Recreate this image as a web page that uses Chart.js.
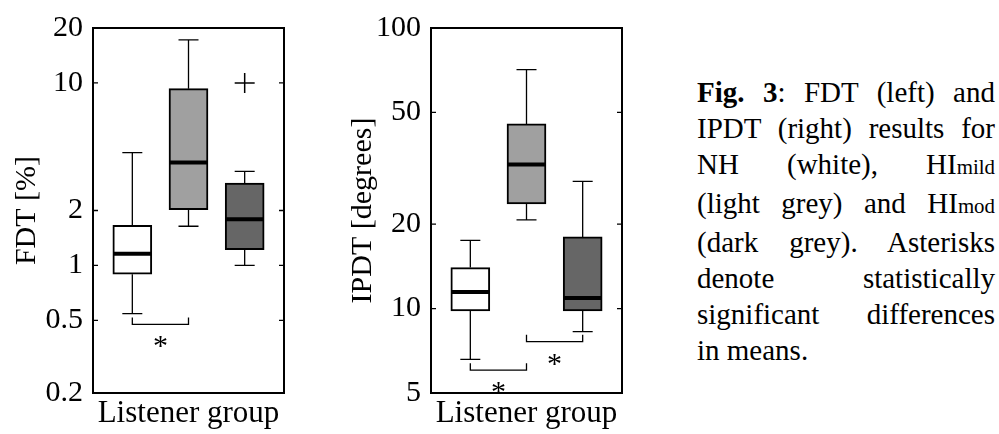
<!DOCTYPE html>
<html>
<head>
<meta charset="utf-8">
<script src="https://cdn.jsdelivr.net/npm/chart.js@4.4.1/dist/chart.umd.min.js"></script>
<style>
  body { margin: 0; background: #fff; }
  #wrap { position: relative; width: 999px; height: 434px; overflow: hidden; }
  #fdt { position: absolute; left: 0; top: 0; }
  #ipdt { position: absolute; left: 330px; top: 0; }
  #caption {
    position: absolute; left: 697px; top: 74px; width: 298px;
    font-family: "Liberation Serif", "Times New Roman", serif;
    font-size: 29px; line-height: 36px; color: #000;
  }
  #caption .ln { text-align: justify; text-align-last: justify; }
  #caption .ln.last { text-align-last: left; }
  #caption small { font-size: 0.72em; }
</style>
</head>
<body>
<div id="wrap">
  <canvas id="fdt" width="300" height="434"></canvas>
  <canvas id="ipdt" width="310" height="434"></canvas>
  <div id="caption">
    <div class="ln"><b>Fig. 3</b>: FDT (left) and</div>
    <div class="ln">IPDT (right) results for</div>
    <div class="ln">NH (white), HI<small>mild</small></div>
    <div class="ln">(light grey) and HI<small>mod</small></div>
    <div class="ln">(dark grey). Asterisks</div>
    <div class="ln">denote statistically</div>
    <div class="ln">significant differences</div>
    <div class="ln last">in means.</div>
  </div>
</div>
<script>
// Listener groups, placed at x = 1, 2, 3
const groups = ["NH", "HImild", "HImod"];
const groupPos = [1, 2, 3];
const boxColors = ["#ffffff", "#a0a0a0", "#666666"];

// FDT [%] box plot values
const fdtMin = [0.545, 1.64, 1.0];
const fdtQ1 = [0.895, 2.02, 1.22];
const fdtMed = [1.16, 3.66, 1.79];
const fdtQ3 = [1.66, 9.3, 2.83];
const fdtMax = [4.15, 17.2, 3.28];
const fdtOutlierGroup = [3];
const fdtOutlierValue = [10];
const fdtTicks = [0.2, 0.5, 1, 2, 10, 20];
const fdtSigFrom = [1];
const fdtSigTo = [2];
const fdtSigLevel = [0.475];

// IPDT [degrees] box plot values
const ipdtMin = [6.59, 20.7, 8.27];
const ipdtQ1 = [9.8, 23.6, 9.8];
const ipdtMed = [11.45, 32.6, 10.9];
const ipdtQ3 = [14.0, 45.5, 18.0];
const ipdtMax = [17.5, 71.1, 28.4];
const ipdtOutlierGroup = [];
const ipdtOutlierValue = [];
const ipdtTicks = [5, 10, 20, 50, 100];
const ipdtSigFrom = [1, 2];
const ipdtSigTo = [2, 3];
const ipdtSigLevel = [6.03, 7.62];

const serif = "'Liberation Serif', 'Times New Roman', serif";

// draws whiskers, medians, frame, inward ticks and significance brackets
const boxPlotExtras = {
  id: "boxPlotExtras",
  afterDatasetsDraw(chart, args, opts) {
    const ctx = chart.ctx;
    const x = chart.scales.x;
    const y = chart.scales.y;
    const area = chart.chartArea;
    ctx.save();
    ctx.strokeStyle = "#000";

    // whiskers + caps
    ctx.lineWidth = 1.3;
    opts.pos.forEach((p, i) => {
      const px = x.getPixelForValue(p);
      [[opts.q3[i], opts.max[i]], [opts.q1[i], opts.min[i]]].forEach(([from, to]) => {
        ctx.beginPath();
        ctx.moveTo(px, y.getPixelForValue(from));
        ctx.lineTo(px, y.getPixelForValue(to));
        ctx.moveTo(px - 10, y.getPixelForValue(to));
        ctx.lineTo(px + 10, y.getPixelForValue(to));
        ctx.stroke();
      });
    });

    // medians
    ctx.lineWidth = 4;
    opts.pos.forEach((p, i) => {
      const px = x.getPixelForValue(p);
      const py = y.getPixelForValue(opts.med[i]);
      ctx.beginPath();
      ctx.moveTo(px - 19, py);
      ctx.lineTo(px + 19, py);
      ctx.stroke();
    });

    // frame and inward ticks
    ctx.lineWidth = 2;
    ctx.strokeRect(area.left, area.top, area.right - area.left, area.bottom - area.top);
    ctx.lineWidth = 1.3;
    y.ticks.forEach((t) => {
      const py = y.getPixelForValue(t.value);
      ctx.beginPath();
      ctx.moveTo(area.left, py);
      ctx.lineTo(area.left + 5, py);
      ctx.moveTo(area.right, py);
      ctx.lineTo(area.right - 5, py);
      ctx.stroke();
    });

    // significance brackets
    ctx.lineWidth = 1.3;
    ctx.fillStyle = "#000";
    ctx.font = "30px " + serif;
    ctx.textAlign = "center";
    ctx.textBaseline = "alphabetic";
    opts.sigFrom.forEach((a, i) => {
      const x1 = x.getPixelForValue(a);
      const x2 = x.getPixelForValue(opts.sigTo[i]);
      const py = y.getPixelForValue(opts.sigLevel[i]);
      ctx.beginPath();
      ctx.moveTo(x1, py - 7);
      ctx.lineTo(x1, py);
      ctx.lineTo(x2, py);
      ctx.lineTo(x2, py - 7);
      ctx.stroke();
      ctx.fillText("*", (x1 + x2) / 2, py + 31);
    });
    ctx.restore();
  },
};

function makePanel(canvasId, p) {
  const boxData = p.pos.map((pos, i) => ({ x: pos, y: [p.q1[i], p.q3[i]] }));
  const outlierData = p.outGroup.map((g, i) => ({ x: g, y: p.outValue[i] }));

  return new Chart(document.getElementById(canvasId), {
    type: "bar",
    data: {
      datasets: [
        {
          label: "box",
          data: boxData,
          backgroundColor: boxColors,
          borderColor: "#000",
          borderWidth: 2,
          borderSkipped: false,
          barThickness: 39,
        },
        {
          type: "scatter",
          label: "outliers",
          data: outlierData,
          pointStyle: "cross",
          radius: 10,
          borderColor: "#000",
          borderWidth: 1.5,
        },
      ],
    },
    options: {
      responsive: false,
      animation: false,
      layout: { padding: { top: p.padTop, right: p.padRight, left: 0, bottom: 0 } },
      plugins: {
        legend: { display: false },
        tooltip: { enabled: false },
        boxPlotExtras: {
          pos: p.pos, min: p.min, q1: p.q1, med: p.med, q3: p.q3, max: p.max,
          sigFrom: p.sigFrom, sigTo: p.sigTo, sigLevel: p.sigLevel,
        },
      },
      scales: {
        x: {
          type: "linear",
          min: 0.3,
          max: 3.7,
          offset: false,
          grid: { display: false, drawTicks: false },
          border: { display: false },
          ticks: { display: false },
          title: {
            display: true,
            text: "Listener group",
            color: "#000",
            font: { family: serif, size: 31 },
            padding: { top: 0, bottom: 2 },
          },
          afterFit: (scale) => { scale.height = 41; },
        },
        y: {
          type: "logarithmic",
          min: p.ticks[0],
          max: p.ticks[p.ticks.length - 1],
          grid: { display: false, drawTicks: false },
          border: { display: false },
          afterBuildTicks: (scale) => {
            scale.ticks = p.ticks.map((v) => ({ value: v }));
          },
          ticks: {
            color: "#000",
            padding: 10,
            font: { family: serif, size: 30 },
            callback: (v) => String(v),
          },
          title: {
            display: true,
            text: p.title,
            color: "#000",
            font: { family: serif, size: 30 },
            padding: { top: p.titlePad, bottom: 0 },
          },
          afterFit: (scale) => { scale.width = p.axisWidth; },
        },
      },
    },
    plugins: [boxPlotExtras],
  });
}

makePanel("fdt", {
  pos: groupPos, min: fdtMin, q1: fdtQ1, med: fdtMed, q3: fdtQ3, max: fdtMax,
  outGroup: fdtOutlierGroup, outValue: fdtOutlierValue, ticks: fdtTicks,
  sigFrom: fdtSigFrom, sigTo: fdtSigTo, sigLevel: fdtSigLevel,
  title: "FDT [%]", titlePad: 9, axisWidth: 93, padTop: 21, padRight: 16,
});

makePanel("ipdt", {
  pos: groupPos, min: ipdtMin, q1: ipdtQ1, med: ipdtMed, q3: ipdtQ3, max: ipdtMax,
  outGroup: ipdtOutlierGroup, outValue: ipdtOutlierValue, ticks: ipdtTicks,
  sigFrom: ipdtSigFrom, sigTo: ipdtSigTo, sigLevel: ipdtSigLevel,
  title: "IPDT [degrees]", titlePad: 15, axisWidth: 101, padTop: 24, padRight: 18,
});
</script>
</body>
</html>
